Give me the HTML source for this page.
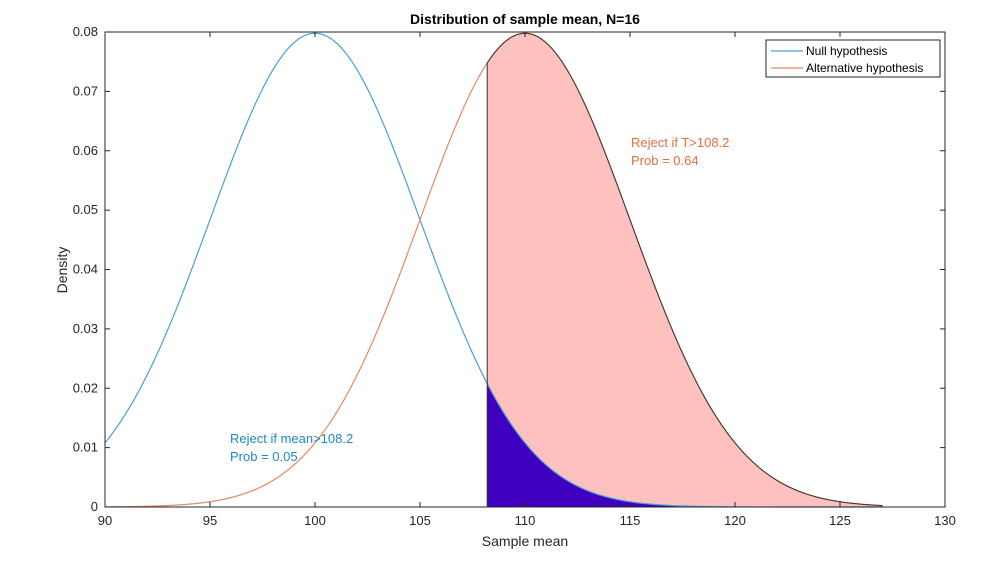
<!DOCTYPE html>
<html><head><meta charset="utf-8"><style>
html,body{margin:0;padding:0;background:#fff;}
svg{display:block;font-family:"Liberation Sans",Arial,sans-serif;}
</style></head><body>
<svg id="s" width="1000" height="563" viewBox="0 0 1000 563" xmlns="http://www.w3.org/2000/svg">
<rect width="1000" height="563" fill="#fff"/>
<g id="plot"></g>
<rect x="105" y="32" width="840" height="475" fill="none" stroke="#262626" stroke-width="1"/>
<g id="ticks" stroke="#262626" stroke-width="1"></g>
<g id="labels" font-size="13" fill="#262626"></g>
<text x="525" y="24" text-anchor="middle" font-size="14" font-weight="bold" fill="#000">Distribution of sample mean, N=16</text>
<text x="525" y="546" text-anchor="middle" font-size="14" fill="#262626">Sample mean</text>
<text transform="translate(67,270) rotate(-90)" text-anchor="middle" font-size="14" fill="#262626">Density</text>
<text x="631" y="147" font-size="13" fill="#E07040">Reject if T&gt;108.2</text>
<text x="631" y="165" font-size="13" fill="#E07040">Prob = 0.64</text>
<text x="230" y="443" font-size="13" fill="#1E88C8">Reject if mean&gt;108.2</text>
<text x="230" y="461" font-size="13" fill="#1E88C8">Prob = 0.05</text>
<rect x="766" y="40" width="174" height="37" fill="#fff" stroke="#262626" stroke-width="1"/>
<line x1="771" y1="51" x2="803" y2="51" stroke="#4A9FD4" stroke-width="1.2"/>
<line x1="771" y1="68" x2="803" y2="68" stroke="#E48A5E" stroke-width="1.2"/>
<text x="806" y="55" font-size="12" fill="#000">Null hypothesis</text>
<text x="806" y="72" font-size="12" fill="#000">Alternative hypothesis</text>
</svg>
<script>
var NS="http://www.w3.org/2000/svg";
function X(v){return 105+(v-90)*21;}
function Y(v){return 507-v*5937.5;}
function pdf(x,m){return Math.exp(-(x-m)*(x-m)/50)/(5*Math.sqrt(2*Math.PI));}
function el(t,a,p){var e=document.createElementNS(NS,t);for(var k in a)e.setAttribute(k,a[k]);(p||document.getElementById("plot")).appendChild(e);return e;}
function curve(m,a,b){var d="";for(var x=a;x<=b+1e-9;x+=0.05){d+=(d?"L":"M")+X(x).toFixed(2)+","+Y(pdf(x,m)).toFixed(2);}return d;}
var c=108.2,e=127;
el("path",{d:curve(110,c,e)+"L"+X(e)+","+Y(0)+"L"+X(c)+","+Y(0)+"Z",fill:"#FFC0C0",stroke:"none"});
el("path",{d:curve(100,c,e)+"L"+X(e)+","+Y(0)+"L"+X(c)+","+Y(0)+"Z",fill:"#4000C0",stroke:"none"});
el("path",{d:curve(100,90,e),fill:"none",stroke:"#4A9FD4","stroke-width":1.2});
el("path",{d:curve(110,90,e),fill:"none",stroke:"#E48A5E","stroke-width":1.2});
el("path",{d:curve(110,c,e)+"L"+X(e)+","+Y(0)+"L"+X(c)+","+Y(0)+"Z",fill:"none",stroke:"#333","stroke-width":1});
var T=document.getElementById("ticks"),L=document.getElementById("labels");
for(var v=90;v<=130;v+=5){var x=X(v);
el("line",{x1:x,y1:507,x2:x,y2:502},T);el("line",{x1:x,y1:32,x2:x,y2:37},T);
var t=el("text",{x:x,y:525,"text-anchor":"middle"},L);t.textContent=v;}
for(var i=0;i<=8;i++){var y=Y(i/100);
el("line",{x1:105,y1:y,x2:110,y2:y},T);el("line",{x1:945,y1:y,x2:940,y2:y},T);
var t=el("text",{x:98,y:y+4,"text-anchor":"end"},L);t.textContent=i==0?"0":(i/100).toFixed(2);}
</script>
</body></html>
